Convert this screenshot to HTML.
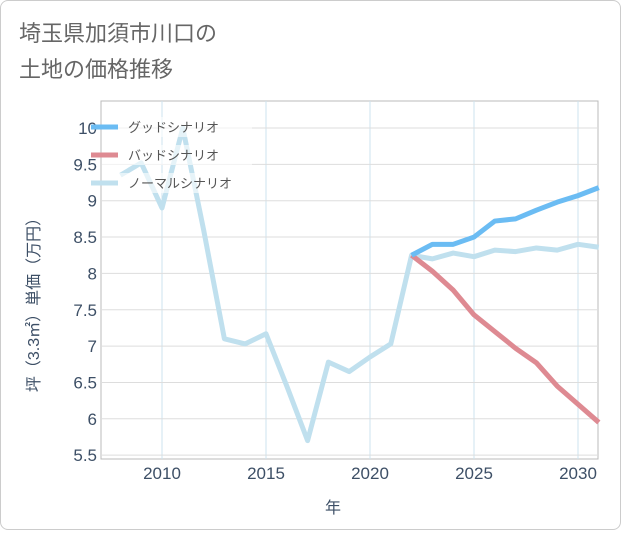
<!DOCTYPE html>
<html><head><meta charset="utf-8"><style>
body{margin:0;background:#fff;}
#card{position:absolute;left:0;top:0;width:619px;height:528px;border:1px solid #ccc;border-radius:8px;background:#fff;}
text{font-family:"Liberation Sans","Noto Sans CJK JP",sans-serif;}
</style></head><body>
<div id="card">
<svg id="chart" width="621" height="530">
<text x="18" y="40" font-size="22" fill="#666">埼玉県加須市川口の</text>
<text x="18" y="76" font-size="22" fill="#666">土地の価格推移</text>
<rect x="100" y="100" width="497" height="358" fill="none" stroke="#bbb"/>
<g id="grid"></g><g id="series"></g>
<text x="332" y="512" font-size="16" fill="#3d4f66" text-anchor="middle">年</text>
<text transform="translate(38,300) rotate(-90)" font-size="16" fill="#3d4f66" text-anchor="middle">坪（3.3㎡）単価（万円）</text>
<g id="legend"></g>
</svg></div>
<script>
const years=[2008,2009,2010,2011,2012,2013,2014,2015,2016,2017,2018,2019,2020,2021,2022,2023,2024,2025,2026,2027,2028,2029,2030,2031];
const normal=[9.35,9.52,8.9,10.0,8.6,7.1,7.03,7.17,6.45,5.7,6.78,6.65,6.85,7.03,8.25,8.2,8.28,8.23,8.32,8.3,8.35,8.32,8.4,8.36];
const goodYears=[2022,2023,2024,2025,2026,2027,2028,2029,2030,2031];
const good=[8.25,8.4,8.4,8.5,8.72,8.75,8.87,8.98,9.07,9.18];
const bad=[8.25,8.03,7.77,7.43,7.2,6.97,6.77,6.45,6.2,5.95];
const xTicks=[2010,2015,2020,2025,2030];
const yTicks=[5.5,6,6.5,7,7.5,8,8.5,9,9.5,10];
const yLabels=["5.5","6","6.5","7","7.5","8","8.5","9","9.5","10"];
const NS="http://www.w3.org/2000/svg";
const X=v=>161+(v-2010)*20.8, Y=v=>127+(10-v)*72.7;
function mk(t,a,p){const e=document.createElementNS(NS,t);for(const k in a)e.setAttribute(k,a[k]);p.appendChild(e);return e;}
const g=document.getElementById('grid');
xTicks.forEach(t=>{const l=mk('line',{x1:X(t),x2:X(t),y1:100,y2:458,stroke:'#cde3ef'},g);


const s=mk('text',{x:X(t),y:478,'font-size':17,fill:'#3d4f66','text-anchor':'middle'},g);s.textContent=t;

});
yTicks.forEach((t,i)=>{const l=mk('line',{x1:100,x2:597,y1:Y(t),y2:Y(t),stroke:'#ddd'},g);


const s=mk('text',{x:96,y:Y(t)+6,'font-size':17,fill:'#3d4f66','text-anchor':'end'},g);s.textContent=yLabels[i];

});
const sg=document.getElementById('series');
function line(xs,ys,c,n){const p=mk('polyline',{points:xs.map((x,i)=>X(x)+','+Y(ys[i])).join(' '),fill:'none',stroke:c,'stroke-width':5,'stroke-linejoin':'round'},sg);

}
line(years,normal,'#c0e0ee','normal-scenario-line');
line(goodYears,bad,'#de8a92','bad-scenario-line');
line(goodYears,good,'#6bbcf3','good-scenario-line');
const lg=document.getElementById('legend');
const items=[['グッドシナリオ','#6bbcf3','legend-good'],['バッドシナリオ','#de8a92','legend-bad'],['ノーマルシナリオ','#c0e0ee','legend-normal']];
items.forEach((it,i)=>{const y=126+i*28;
const r=mk('rect',{x:101,y:y-10,width:150,height:20,fill:'#fff','fill-opacity':0.6},lg);


const l=mk('line',{x1:90,x2:117,y1:y,y2:y,stroke:it[1],'stroke-width':5},lg);


const t=mk('text',{x:127,y:y+5,'font-size':13,fill:'#555'},lg);t.textContent=it[0];

});
</script>
</body></html>
